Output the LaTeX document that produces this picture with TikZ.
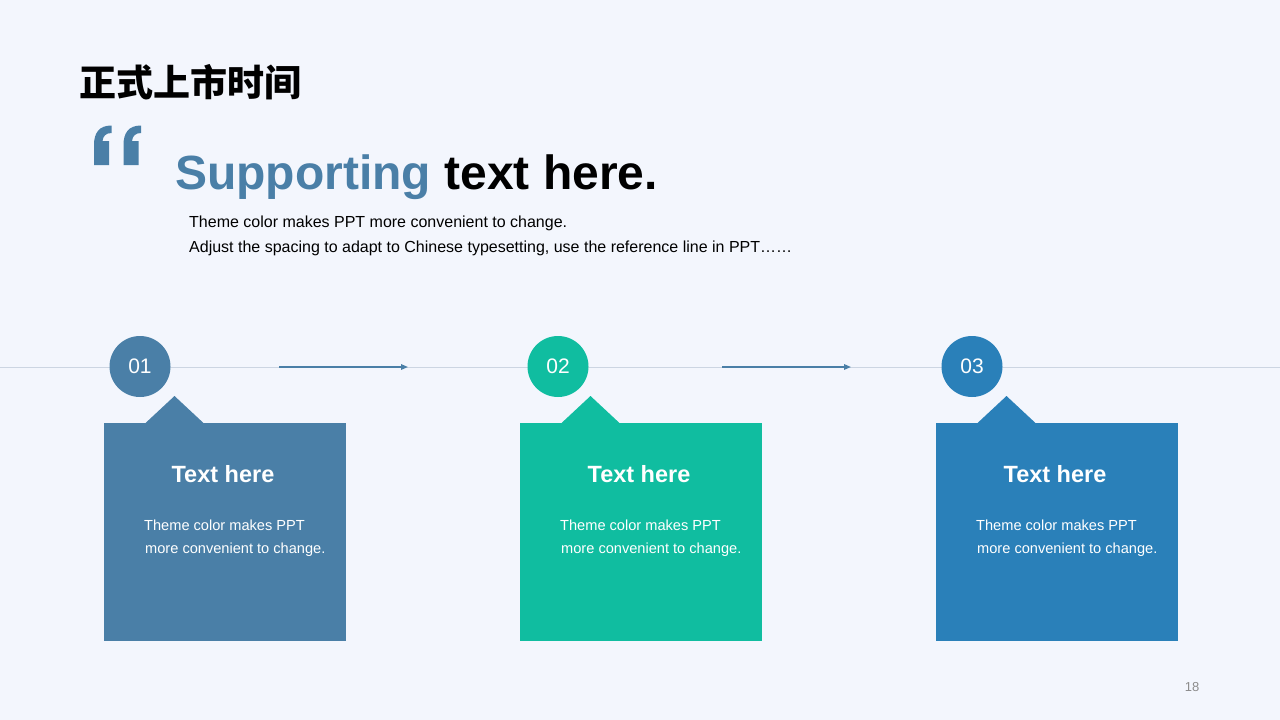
\documentclass[tikz,border=0pt]{standalone}
\usepackage{fontspec}
\setmainfont{Liberation Sans}
\newfontfamily\cjk{Noto Sans CJK SC}
\usetikzlibrary{arrows.meta,calc}
\definecolor{bgc}{HTML}{F3F6FD}
\definecolor{cA}{HTML}{4A7FA7}
\definecolor{cB}{HTML}{10BDA0}
\definecolor{cC}{HTML}{2A80B9}
\definecolor{linec}{HTML}{CCD5E2}
\definecolor{pgc}{HTML}{8C8C8C}
\tikzset{
  numcirc/.style={circle, minimum size=61pt, inner sep=0pt, text=white, font=\fontsize{21}{21}\selectfont},
  cardbox/.style={rectangle, minimum width=242pt, minimum height=218pt, inner sep=0pt, anchor=north west},
  cardtitle/.style={anchor=base, inner sep=0pt, text=white, font=\fontsize{23.5}{23.5}\selectfont\bfseries},
  cardbody/.style={anchor=base west, inner sep=0pt, text=white, font=\fontsize{14.6}{14.6}\selectfont},
  subline/.style={anchor=base west, inner sep=0pt, font=\fontsize{16}{16}\selectfont},
  flowarrow/.style={draw=cA, line width=1.5pt, -{Triangle[length=7pt,width=5.5pt]}},
  quotemark/.style={fill=cA},
}
\begin{document}
\begin{tikzpicture}[x=1pt,y=-1pt]
\useasboundingbox (0,0) rectangle (1280,720);
\fill[bgc] (0,0) rectangle (1280,720);

% heading
\node[anchor=west, inner sep=0pt, font=\cjk\bfseries\fontsize{37}{37}\selectfont] (head) at (79,82) {正式上市时间};

% quote mark
\foreach \X in {94,123.5}{
  \fill[quotemark] (\X,165) -- (\X,145)
    .. controls (\X,133) and (\X+5,125.5) .. (\X+17.5,125.5)
    -- (\X+17.5,133)
    .. controls (\X+12,133) and (\X+9,136) .. (\X+8.5,141)
    -- (\X+15,141) -- (\X+15,165) -- cycle;
}

\node[anchor=base west, inner sep=0pt, font=\fontsize{48}{48}\selectfont\bfseries] (sup) at (175,189) {\textcolor{cA}{Supporting} text here.};
\node[subline] (s1) at (189,227.5) {Theme color makes PPT more convenient to change.};
\node[subline] (s2) at (189,252) {Adjust the spacing to adapt to Chinese typesetting, use the reference line in PPT……};

% timeline
\coordinate (L) at (0,367);
\coordinate (R) at (1280,367);
\draw[linec, line width=1pt] (L) -- (R);

\coordinate (a1s) at (279,367);
\coordinate (a1e) at (408,367);
\coordinate (a2s) at (722,367);
\coordinate (a2e) at (851,367);
\draw[flowarrow] (a1s) -- (a1e);
\draw[flowarrow] (a2s) -- (a2e);

\foreach \i/\bx/\cx/\col/\num in {1/104/140/cA/01, 2/520/558/cB/02, 3/936/972/cC/03}{
  \node[numcirc, fill=\col] (c\i) at (\cx,366.5) {\num};
  \node[cardbox, fill=\col] (b\i) at (\bx,423) {};
  \fill[\col] ($(b\i.north west)+(41,0.5)$) -- ++(29.5,-27.5) -- ++(29.5,27.5) -- cycle;
  \node[cardtitle] (t\i) at ($(b\i.north west)+(119,59)$) {Text here};
  \node[cardbody] (d\i a) at ($(b\i.north west)+(40,107.5)$) {Theme color makes PPT};
  \node[cardbody] (d\i b) at ($(b\i.north west)+(41,130)$) {more convenient to change.};
}

\node[inner sep=0pt, text=pgc, font=\fontsize{13}{13}\selectfont] (page) at (1192,687) {18};
\end{tikzpicture}
\end{document}
